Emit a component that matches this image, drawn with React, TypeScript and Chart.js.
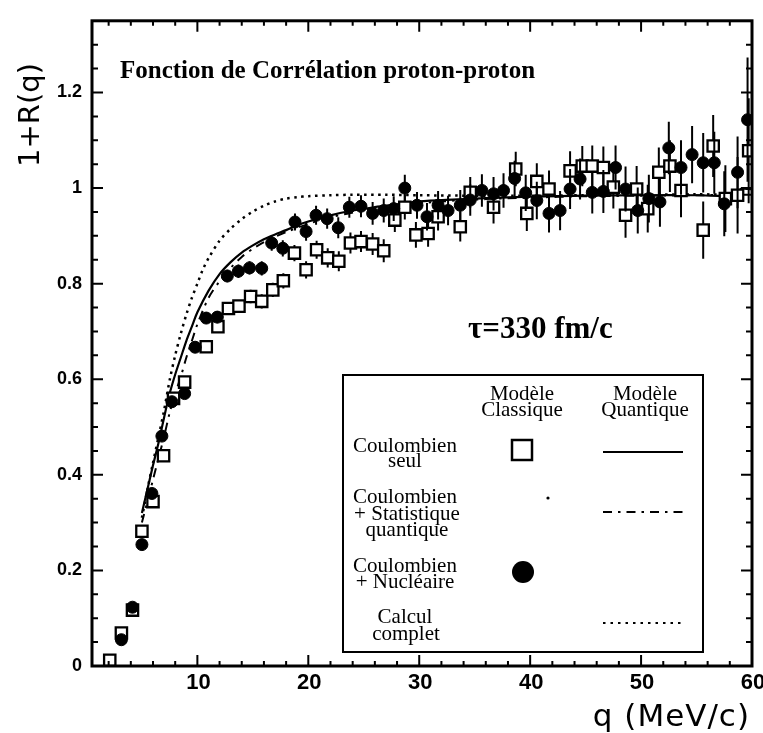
import React, { useEffect, useRef } from "react";
import { Chart, registerables } from "chart.js";

Chart.register(...registerables);

// ---------- data ----------
// Modèle classique, Coulombien seul (open squares)
const qSquares = [2.1, 3.15, 4.15, 5.0, 6.0, 6.95, 7.85, 8.85, 10.8, 11.85, 12.8, 13.75, 14.8, 15.8, 16.8, 17.75, 18.75, 19.8, 20.75, 21.75, 22.75, 23.8, 24.75, 25.8, 26.8, 27.8, 28.7, 29.7, 30.8, 31.7, 33.7, 34.6, 36.7, 38.7, 39.7, 40.6, 41.7, 43.6, 44.7, 45.6, 46.6, 47.5, 48.6, 49.6, 50.6, 51.6, 52.6, 53.6, 55.6, 56.5, 57.6, 58.7, 59.7];
const rSquares = [0.012, 0.069, 0.117, 0.282, 0.344, 0.44, 0.56, 0.594, 0.668, 0.71, 0.748, 0.753, 0.773, 0.763, 0.787, 0.806, 0.864, 0.829, 0.871, 0.854, 0.847, 0.885, 0.888, 0.883, 0.869, 0.933, 0.96, 0.902, 0.905, 0.94, 0.919, 0.991, 0.96, 1.04, 0.947, 1.014, 0.998, 1.036, 1.046, 1.046, 1.043, 1.002, 0.943, 0.998, 0.957, 1.033, 1.046, 0.995, 0.912, 1.088, 0.978, 0.985, 1.078];
const eSquares = [0.006, 0.007, 0.008, 0.009, 0.01, 0.01, 0.01, 0.011, 0.012, 0.012, 0.013, 0.013, 0.014, 0.015, 0.015, 0.016, 0.017, 0.018, 0.019, 0.02, 0.021, 0.022, 0.022, 0.023, 0.024, 0.025, 0.026, 0.027, 0.028, 0.029, 0.031, 0.032, 0.034, 0.036, 0.037, 0.038, 0.039, 0.041, 0.042, 0.043, 0.044, 0.045, 0.047, 0.048, 0.05, 0.052, 0.054, 0.056, 0.06, 0.065, 0.07, 0.08, 0.11];

// Modèle classique, Coulombien + Nucléaire (filled circles)
const qCircles = [3.15, 4.15, 5.0, 5.9, 6.8, 7.7, 8.85, 9.8, 10.8, 11.8, 12.7, 13.7, 14.7, 15.8, 16.7, 17.7, 18.8, 19.8, 20.7, 21.7, 22.7, 23.7, 24.75, 25.8, 26.8, 27.7, 28.7, 29.8, 30.7, 31.7, 32.6, 33.7, 34.6, 35.65, 36.7, 37.6, 38.6, 39.6, 40.6, 41.7, 42.7, 43.6, 44.5, 45.6, 46.6, 47.7, 48.6, 49.7, 50.7, 51.7, 52.5, 53.6, 54.6, 55.6, 56.6, 57.5, 58.7, 59.6];
const rCircles = [0.055, 0.123, 0.254, 0.361, 0.481, 0.553, 0.57, 0.667, 0.728, 0.73, 0.816, 0.826, 0.833, 0.832, 0.885, 0.874, 0.929, 0.909, 0.943, 0.936, 0.917, 0.96, 0.962, 0.947, 0.953, 0.957, 1.0, 0.964, 0.94, 0.964, 0.953, 0.964, 0.975, 0.995, 0.988, 0.995, 1.02, 0.99, 0.974, 0.947, 0.953, 0.998, 1.019, 0.991, 0.993, 1.043, 0.998, 0.953, 0.978, 0.971, 1.084, 1.043, 1.07, 1.053, 1.053, 0.967, 1.033, 1.143];
const eCircles = [0.006, 0.007, 0.009, 0.01, 0.01, 0.011, 0.011, 0.012, 0.012, 0.013, 0.013, 0.014, 0.014, 0.015, 0.016, 0.017, 0.018, 0.019, 0.02, 0.021, 0.022, 0.022, 0.023, 0.024, 0.025, 0.026, 0.028, 0.028, 0.029, 0.03, 0.031, 0.032, 0.033, 0.034, 0.035, 0.036, 0.037, 0.038, 0.039, 0.04, 0.041, 0.042, 0.043, 0.044, 0.045, 0.046, 0.047, 0.048, 0.05, 0.052, 0.055, 0.057, 0.06, 0.062, 0.065, 0.068, 0.075, 0.13];

// Modèle quantique, Coulombien seul (solid curve)
const qSolid = [5, 5.5, 6, 6.5, 7, 7.5, 8, 8.5, 9, 9.5, 10, 11, 12, 13, 14, 15, 16, 17, 18, 19, 20, 22, 24, 26, 28, 30, 33, 36, 40, 45, 50, 55, 58.8, 59, 60];
const rSolid = [0.32, 0.37, 0.42, 0.467, 0.52, 0.57, 0.61, 0.645, 0.68, 0.71, 0.74, 0.785, 0.82, 0.845, 0.865, 0.88, 0.893, 0.903, 0.912, 0.922, 0.93, 0.943, 0.953, 0.96, 0.966, 0.972, 0.976, 0.979, 0.982, 0.984, 0.985, 0.985, 0.985, 0.998, 0.998];

// Modèle quantique, Coulombien + Statistique quantique (dash-dot curve)
const qDashDot = [5, 5.5, 6, 6.5, 7, 7.5, 8, 8.5, 9, 9.5, 10, 11, 12, 13, 14, 15, 16, 17, 18, 20, 22, 25, 28, 32, 36, 40, 45, 50, 55, 60];
const rDashDot = [0.3, 0.345, 0.39, 0.435, 0.48, 0.53, 0.57, 0.605, 0.645, 0.68, 0.715, 0.77, 0.805, 0.833, 0.856, 0.873, 0.887, 0.898, 0.908, 0.925, 0.939, 0.953, 0.964, 0.972, 0.977, 0.98, 0.983, 0.984, 0.985, 0.986];

// Calcul complet (dotted curve)
const qDotted = [5, 5.5, 6, 6.5, 7, 7.5, 8, 8.5, 9, 9.5, 10, 10.5, 11, 12, 13, 14, 15, 16, 17, 18, 19, 20, 22, 24, 27, 30, 35, 40, 45, 50, 55, 58.8, 59, 60];
const rDotted = [0.31, 0.37, 0.425, 0.48, 0.535, 0.598, 0.65, 0.695, 0.735, 0.77, 0.8, 0.83, 0.853, 0.89, 0.915, 0.935, 0.951, 0.963, 0.972, 0.978, 0.981, 0.983, 0.985, 0.986, 0.986, 0.985, 0.984, 0.984, 0.985, 0.986, 0.987, 0.988, 0.998, 0.998];

// axes
const xTickValues = [10, 20, 30, 40, 50, 60];
const xMinorValues = [2, 4, 6, 8, 12, 14, 16, 18, 22, 24, 26, 28, 32, 34, 36, 38, 42, 44, 46, 48, 52, 54, 56, 58];
const yTickValues = [0, 0.2, 0.4, 0.6, 0.8, 1, 1.2];
const yMinorValues = [0.05, 0.1, 0.15, 0.25, 0.3, 0.35, 0.45, 0.5, 0.55, 0.65, 0.7, 0.75, 0.85, 0.9, 0.95, 1.05, 1.1, 1.15, 1.25, 1.3];

const titleText = "Fonction de Corrélation proton-proton";
const tauText = "τ=330 fm/c";
const xTitle = "q (MeV/c)";
const yTitle = "1+R(q)";

const SERIF = '"Liberation Serif", "Times New Roman", serif';
const SANS = '"DejaVu Sans", sans-serif';
const TICKFONT = '"Liberation Sans", Arial, sans-serif';

const zip = (xs: number[], ys: number[]) => xs.map((x, i) => ({ x, y: ys[i] }));

const decoPlugin = {
  id: "deco",
  beforeDatasetDraw(chart: any, args: any) {
    const ds = chart.data.datasets[args.index];
    const errs: number[] | undefined = ds.errors;
    if (!errs) return;
    const { ctx, scales } = chart;
    const x = scales.x, y = scales.y;
    ctx.save();
    const a = chart.chartArea;
    ctx.beginPath();
    ctx.rect(a.left, a.top, a.right - a.left, a.bottom - a.top);
    ctx.clip();
    ctx.strokeStyle = "#000";
    ctx.lineWidth = 2;
    ds.data.forEach((p: any, i: number) => {
      const px = x.getPixelForValue(p.x);
      ctx.beginPath();
      ctx.moveTo(px, y.getPixelForValue(p.y - errs[i]));
      ctx.lineTo(px, y.getPixelForValue(p.y + errs[i]));
      ctx.stroke();
    });
    ctx.restore();
  },
  afterDraw(chart: any) {
    const { ctx, chartArea: a, scales } = chart;
    const x = scales.x, y = scales.y;
    ctx.save();
    ctx.strokeStyle = "#000";
    ctx.fillStyle = "#000";
    ctx.lineWidth = 2;
    ctx.setLineDash([]);
    // ticks, inward on four sides
    const hTick = (v: number, len: number) => {
      const px = x.getPixelForValue(v);
      ctx.beginPath();
      ctx.moveTo(px, a.bottom); ctx.lineTo(px, a.bottom - len);
      ctx.moveTo(px, a.top); ctx.lineTo(px, a.top + len);
      ctx.stroke();
    };
    const vTick = (v: number, len: number) => {
      const py = y.getPixelForValue(v);
      ctx.beginPath();
      ctx.moveTo(a.left, py); ctx.lineTo(a.left + len, py);
      ctx.moveTo(a.right, py); ctx.lineTo(a.right - len, py);
      ctx.stroke();
    };
    xMinorValues.forEach((v) => hTick(v, 5));
    xTickValues.forEach((v) => hTick(v, 11));
    yMinorValues.forEach((v) => vTick(v, 6));
    yTickValues.forEach((v) => vTick(v, 11));
    // frame
    ctx.lineWidth = 3;
    ctx.strokeRect(a.left, a.top, a.right - a.left, a.bottom - a.top);

    // x tick labels
    ctx.font = `bold 22px ${TICKFONT}`;
    ctx.textAlign = "center";
    ctx.textBaseline = "top";
    xTickValues.forEach((v) => ctx.fillText(String(v), x.getPixelForValue(v) + 1, a.bottom + 6));

    // axis titles
    ctx.textBaseline = "alphabetic";
    ctx.textAlign = "right";
    ctx.font = `31px ${SANS}`;
    (ctx as any).letterSpacing = "1px";
    ctx.fillText(xTitle, 750, 726);
    ctx.save();
    ctx.translate(31, 115);
    ctx.rotate(-Math.PI / 2);
    ctx.textAlign = "center";
    ctx.textBaseline = "middle";
    ctx.font = `29px ${SANS}`;
    (ctx as any).letterSpacing = "0px";
    ctx.fillText(yTitle, 0, 0);
    ctx.restore();
    (ctx as any).letterSpacing = "0px";

    // title and tau
    ctx.textAlign = "left";
    ctx.textBaseline = "alphabetic";
    ctx.font = `bold 25px ${SERIF}`;
    ctx.fillText(titleText, 120, 78);
    ctx.font = `bold 31px ${SERIF}`;
    ctx.fillText(tauText, 468, 338);

    // legend box
    ctx.lineWidth = 2;
    ctx.strokeRect(343, 375, 360, 277);
    ctx.font = `21px ${SERIF}`;
    ctx.textAlign = "center";
    const lines: [string, number, number][] = [
      ["Modèle", 522, 400], ["Classique", 522, 416],
      ["Modèle", 645, 400], ["Quantique", 645, 416],
      ["Coulombien", 405, 452], ["seul", 405, 467],
      ["Coulombien", 405, 503], ["+ Statistique", 407, 520], ["quantique", 407, 536],
      ["Coulombien", 405, 572], ["+ Nucléaire", 405, 588],
      ["Calcul", 405, 623], ["complet", 406, 640],
    ];
    lines.forEach(([t, lx, ly]) => ctx.fillText(t, lx, ly));
    // legend symbols
    ctx.lineWidth = 2.5;
    ctx.strokeRect(512, 440, 20, 20);
    ctx.beginPath();
    ctx.arc(548, 498, 1.6, 0, Math.PI * 2);
    ctx.fill();
    ctx.beginPath();
    ctx.arc(523, 572, 11, 0, Math.PI * 2);
    ctx.fill();
    const seg = (yy: number, dash: number[]) => {
      ctx.setLineDash(dash);
      ctx.beginPath();
      ctx.moveTo(603, yy);
      ctx.lineTo(683, yy);
      ctx.stroke();
    };
    ctx.lineWidth = 2;
    seg(452, []);
    seg(512, [9, 6, 2.5, 6]);
    seg(623, [2.5, 5]);
    ctx.restore();
  },
};

export default function App() {
  const ref = useRef<HTMLCanvasElement>(null);
  useEffect(() => {
    const canvas = ref.current;
    if (!canvas) return;
    const chart = new Chart(canvas, {
      type: "scatter",
      data: {
        datasets: [
          {
            label: "Coulombien + Nucléaire (classique)",
            data: zip(qCircles, rCircles),
            errors: eCircles,
            pointStyle: "circle",
            pointRadius: 6,
            backgroundColor: "#000",
            borderColor: "#000",
            borderWidth: 1,
            showLine: false,
            order: 1,
          } as any,
          {
            label: "Coulombien seul (classique)",
            data: zip(qSquares, rSquares),
            errors: eSquares,
            pointStyle: "rect",
            pointRadius: 8,
            backgroundColor: "#fff",
            borderColor: "#000",
            borderWidth: 2.3,
            showLine: false,
            order: 2,
          } as any,
          {
            label: "Coulombien seul (quantique)",
            data: zip(qSolid, rSolid),
            showLine: true,
            borderColor: "#000",
            borderWidth: 2.2,
            pointRadius: 0,
            tension: 0.3,
            order: 3,
          },
          {
            label: "Coulombien + Statistique quantique (quantique)",
            data: zip(qDashDot, rDashDot),
            showLine: true,
            borderColor: "#000",
            borderWidth: 2,
            borderDash: [9, 6, 2.5, 6],
            pointRadius: 0,
            tension: 0.3,
            order: 4,
          },
          {
            label: "Calcul complet",
            data: zip(qDotted, rDotted),
            showLine: true,
            borderColor: "#000",
            borderWidth: 2.5,
            borderDash: [2.5, 4.5],
            pointRadius: 0,
            tension: 0.3,
            order: 5,
          },
        ],
      },
      options: {
        animation: false,
        responsive: false,
        devicePixelRatio: 1,
        layout: { padding: { left: 0, top: 13, right: 11, bottom: 0 } },
        plugins: { legend: { display: false }, tooltip: { enabled: false }, title: { display: false } },
        events: [],
        scales: {
          x: {
            type: "linear",
            min: 0.5,
            max: 60,
            grid: { display: false, drawTicks: false },
            border: { display: false },
            ticks: { display: false },
            afterBuildTicks: (s: any) => { s.ticks = xTickValues.map((v) => ({ value: v })); },
            afterFit: (s: any) => { s.height = 67; },
          },
          y: {
            type: "linear",
            min: 0,
            max: 1.35,
            grid: { display: false, drawTicks: false },
            border: { display: false },
            ticks: {
              color: "#000",
              padding: 10,
              font: { family: TICKFONT, size: 18, weight: "bold" },
              callback: (v: any) => String(Math.round(Number(v) * 10) / 10),
            },
            afterBuildTicks: (s: any) => { s.ticks = yTickValues.map((v) => ({ value: v })); },
            afterFit: (s: any) => { s.width = 92; },
          },
        },
      } as any,
      plugins: [decoPlugin],
    });
    return () => chart.destroy();
  }, []);
  return (
    <div style={{ position: "fixed", left: 0, top: 0, width: 763, height: 733, background: "#fff" }}>
      <canvas ref={ref} width={763} height={733} style={{ display: "block", width: 763, height: 733 }} />
    </div>
  );
}
